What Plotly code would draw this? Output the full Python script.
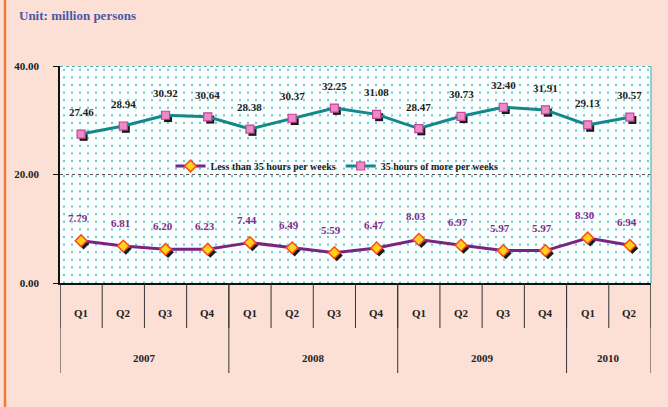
import base64
import plotly.graph_objects as go

# ---------------- data ----------------
years = ["2007", "2008", "2009", "2010"]
quarters_per_year = [4, 4, 4, 2]
quarter_labels = ["Q1", "Q2", "Q3", "Q4", "Q1", "Q2", "Q3", "Q4",
                  "Q1", "Q2", "Q3", "Q4", "Q1", "Q2"]
less35 = [7.79, 6.81, 6.20, 6.23, 7.44, 6.49, 5.59, 6.47, 8.03, 6.97, 5.97, 5.97, 8.30, 6.94]
more35 = [27.46, 28.94, 30.92, 30.64, 28.38, 30.37, 32.25, 31.08, 28.47, 30.73, 32.40, 31.91, 29.13, 30.57]
y_ticks = [0, 20, 40]
name_less = "Less than 35 hours per weeks"
name_more = "35 hours of more per weeks"
title_text = "Unit: million persons"

# ------------- categories -------------
cats = []
qi = 0
for yr, n in zip(years, quarters_per_year):
    for _ in range(n):
        cats.append(f"{yr} {quarter_labels[qi]}")
        qi += 1

W, H = 668, 407
L, R, T, B = 60, 17, 66, 124
PW, PH = W - L - R, H - T - B
FONT = "Liberation Serif"

TEAL = "#13878A"
PURPLE = "#7B2383"
BG = "rgb(252,223,213)"

fig = go.Figure()

# shadows (overlay axes shifted by a few pixels)
fig.add_trace(go.Scatter(x=cats, y=more35, mode="markers", xaxis="x2", yaxis="y2",
                         marker=dict(symbol="square", size=8, color="#1a1a1a"),
                         showlegend=False, hoverinfo="skip"))
fig.add_trace(go.Scatter(x=cats, y=less35, mode="markers", xaxis="x2", yaxis="y2",
                         marker=dict(symbol="diamond", size=9, color="#1a1a1a"),
                         showlegend=False, hoverinfo="skip"))

fig.add_trace(go.Scatter(x=cats, y=less35, mode="lines+markers", name=name_less,
                         xaxis="x3", yaxis="y3",
                         line=dict(color=PURPLE, width=3),
                         marker=dict(symbol="diamond", size=9, color="#FFD21F",
                                     line=dict(color="#FF4A1A", width=1.5))))
fig.add_trace(go.Scatter(x=cats, y=more35, mode="lines+markers", name=name_more,
                         xaxis="x3", yaxis="y3",
                         line=dict(color=TEAL, width=3),
                         marker=dict(symbol="square", size=8, color="#EE8AC6",
                                     line=dict(color="#C0479A", width=1.2))))

# value labels
ann = []
for c, v in zip(cats, more35):
    ann.append(dict(x=c, y=v, text=f"{v:.2f}", showarrow=False, yshift=14,
                    yanchor="bottom", xanchor="center",
                    font=dict(family=FONT, size=11, color="#222222", weight="bold")))
for c, v in zip(cats, less35):
    ann.append(dict(x=c, y=v, text=f"{v:.2f}", showarrow=False, yshift=15, xshift=-3,
                    yanchor="bottom", xanchor="center",
                    font=dict(family=FONT, size=11, color="#7B2D8E", weight="bold")))

# quarter labels
qy = -(313 - (T + PH)) / PH
yy = -(358 - (T + PH)) / PH
for i, q in enumerate(quarter_labels):
    ann.append(dict(x=i, y=qy, xref="x", yref="paper", text=q, showarrow=False,
                    xanchor="center", yanchor="middle",
                    font=dict(family=FONT, size=11, color="#222222", weight="bold")))
start = 0
year_bounds = [-0.5]
for yr, n in zip(years, quarters_per_year):
    ann.append(dict(x=start + (n - 1) / 2, y=yy, xref="x", yref="paper", text=yr, showarrow=False,
                    xanchor="center", yanchor="middle",
                    font=dict(family=FONT, size=11, color="#222222", weight="bold")))
    start += n
    year_bounds.append(start - 0.5)

# title
ann.append(dict(x=(17 - L) / PW, y=(T + PH - 15) / PH, xref="paper", yref="paper",
                xanchor="left", yanchor="middle", text=title_text, showarrow=False,
                font=dict(family=FONT, size=13, color="#4A58A8", weight="bold")))

shapes = []
# quarter dividers
q_end = -(328 - (T + PH)) / PH
y_end = -(373 - (T + PH)) / PH
for k in range(len(cats) + 1):
    shapes.append(dict(type="line", xref="x", yref="paper", x0=k - 0.5, x1=k - 0.5,
                       y0=0, y1=q_end, line=dict(color="#333333", width=1)))
for b in year_bounds:
    shapes.append(dict(type="line", xref="x", yref="paper", x0=b, x1=b,
                       y0=0, y1=y_end, line=dict(color="#333333", width=1)))
# gridline at 20
shapes.append(dict(type="line", xref="paper", yref="y", x0=0, x1=1, y0=20, y1=20,
                   line=dict(color="#555555", width=1, dash="dot"), layer="below"))
# top dotted border
shapes.append(dict(type="line", xref="paper", yref="y", x0=0, x1=1, y0=40, y1=40,
                   line=dict(color="#5AAEB0", width=2, dash="dot"), layer="below"))
# right border
shapes.append(dict(type="line", xref="paper", yref="paper", x0=1, x1=1, y0=0, y1=1,
                   line=dict(color="#6CC3C8", width=1.5), layer="below"))
# orange left line
shapes.append(dict(type="line", xref="paper", yref="paper", x0=(5 - L) / PW, x1=(5 - L) / PW,
                   y0=-(H - T - PH) / PH - 0.05, y1=(T + PH) / PH + 0.05,
                   line=dict(color="#F47A3C", width=2.5)))

# dotted background pattern as svg image
svg = (f'<svg xmlns="http://www.w3.org/2000/svg" width="{PW}" height="{PH}">'
       '<defs><pattern id="p" width="8" height="7.6" patternUnits="userSpaceOnUse">'
       '<rect width="8" height="7.6" fill="#FBFEFE"/>'
       '<circle cx="4" cy="3.8" r="1.1" fill="#58C4C6"/></pattern></defs>'
       f'<rect width="{PW}" height="{PH}" fill="url(#p)"/></svg>')
src = "data:image/svg+xml;base64," + base64.b64encode(svg.encode()).decode()

dx = 2.5 * len(cats) / PW
dy = 2.8 * 40 / PH

cat_axis = dict(type="category", categoryorder="array", categoryarray=cats)
fig.update_layout(
    width=W, height=H, autosize=False,
    margin=dict(l=L, r=R, t=T, b=B, pad=0),
    paper_bgcolor=BG, plot_bgcolor="rgba(0,0,0,0)",
    font=dict(family=FONT, size=11, color="#222222"),
    images=[dict(source=src, xref="paper", yref="paper", x=0, y=1, sizex=1, sizey=1,
                 sizing="stretch", xanchor="left", yanchor="top", layer="below")],
    xaxis=dict(**cat_axis, range=[-0.5, len(cats) - 0.5], showticklabels=False, ticks="",
               showgrid=False, zeroline=False, showline=True, linecolor="#111111", linewidth=1.5),
    xaxis2=dict(**cat_axis, overlaying="x", range=[-0.5 - dx, len(cats) - 0.5 - dx], visible=False),
    xaxis3=dict(**cat_axis, overlaying="x", range=[-0.5, len(cats) - 0.5], visible=False),
    yaxis=dict(range=[0, 40], tickvals=y_ticks, ticktext=[f"{v:.2f}" for v in y_ticks],
               showgrid=False, zeroline=False, showline=True, linecolor="#111111", linewidth=1.5,
               ticks="outside", ticklen=5, tickcolor="#111111", ticklabelstandoff=12,
               tickfont=dict(family=FONT, size=11, color="#222222", weight="bold")),
    yaxis2=dict(range=[0 + dy, 40 + dy], overlaying="y", visible=False),
    yaxis3=dict(range=[0, 40], overlaying="y", visible=False),
    legend=dict(orientation="h", x=(337 - L) / PW, xanchor="center",
                y=(T + PH - 166) / PH, yanchor="middle", bgcolor="rgba(0,0,0,0)",
                font=dict(family=FONT, size=10, color="#222222", weight="bold"),
                itemwidth=30, tracegroupgap=0),
    annotations=ann, shapes=shapes, showlegend=True,
)

fig.write_html("out.html", config={"displayModeBar": False},
               post_script="document.body.style.margin='0';")
